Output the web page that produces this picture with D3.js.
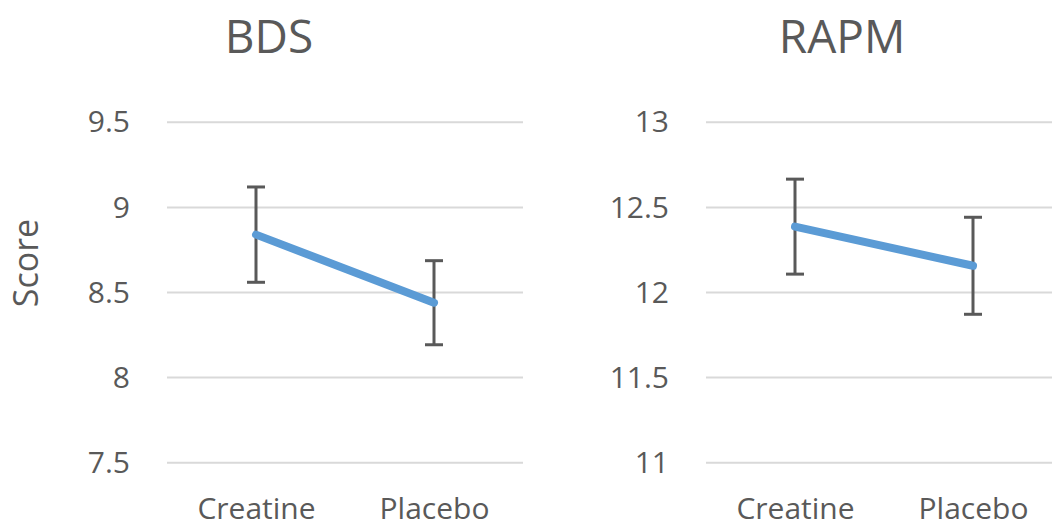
<!DOCTYPE html>
<html>
<head>
<meta charset="utf-8">
<script src="https://cdn.jsdelivr.net/npm/d3@7"></script>
<style>
  html, body { margin: 0; padding: 0; background: #fff; }
  svg { display: block; }
  text { font-family: "Open Sans", "Segoe UI", sans-serif; fill: #595959; }
</style>
</head>
<body>
<svg id="chart" width="1052" height="527"></svg>
<script>
// ---- data ----
const categories = ["Creatine", "Placebo"];
const bdsMeans = [8.84, 8.44];
const bdsErrors = [0.28, 0.247];
const rapmMeans = [12.387, 12.157];
const rapmErrors = [0.279, 0.285];
const bdsTicks = [7.5, 8, 8.5, 9, 9.5];
const rapmTicks = [11, 11.5, 12, 12.5, 13];
const panelTitles = ["BDS", "RAPM"];
const yAxisTitle = "Score";

const svg = d3.select("#chart");

const panels = [
  { title: panelTitles[0], means: bdsMeans, errors: bdsErrors, ticks: bdsTicks,
    x0: 167, x1: 523, titleX: 269 },
  { title: panelTitles[1], means: rapmMeans, errors: rapmErrors, ticks: rapmTicks,
    x0: 706, x1: 1062, titleX: 842 }
];

const yTop = 122.3, yBottom = 462.7;

panels.forEach(p => {
  const g = svg.append("g");
  const x = d3.scalePoint().domain(categories).range([p.x0, p.x1]).padding(0.5);
  const y = d3.scaleLinear().domain([p.ticks[0], p.ticks[p.ticks.length - 1]]).range([yBottom, yTop]);

  // gridlines
  g.selectAll("line.grid").data(p.ticks).enter().append("line")
    .attr("class", "grid")
    .attr("x1", p.x0).attr("x2", p.x1)
    .attr("y1", d => y(d)).attr("y2", d => y(d))
    .attr("stroke", "#d9d9d9").attr("stroke-width", 2);

  // y axis labels
  const yAxis = d3.axisLeft(y).tickValues(p.ticks).tickSize(0).tickPadding(37)
    .tickFormat(d => String(d));
  const ya = g.append("g").attr("transform", `translate(${p.x0},0)`).call(yAxis);
  ya.select(".domain").remove();
  ya.selectAll("text").style("font-size", "30px").attr("fill", "#595959")
    .style("font-family", '"Open Sans", sans-serif');

  // x axis labels
  const xAxis = d3.axisBottom(x).tickSize(0).tickPadding(0);
  const xa = g.append("g").attr("transform", `translate(0,${yBottom})`).call(xAxis);
  xa.select(".domain").remove();
  xa.selectAll("text").attr("dy", null).attr("y", 56)
    .style("font-size", "30px").attr("fill", "#595959")
    .style("font-family", '"Open Sans", sans-serif');

  // title
  g.append("text").attr("x", p.titleX).attr("y", 53)
    .attr("text-anchor", "middle").style("font-size", "46px").text(p.title);

  const data = categories.map((c, i) => ({ c, m: p.means[i], e: p.errors[i] }));

  // error bars
  const eb = g.selectAll("g.eb").data(data).enter().append("g").attr("class", "eb");
  eb.append("line")
    .attr("x1", d => x(d.c)).attr("x2", d => x(d.c))
    .attr("y1", d => y(d.m + d.e)).attr("y2", d => y(d.m - d.e))
    .attr("stroke", "#595959").attr("stroke-width", 3);
  eb.append("line")
    .attr("x1", d => x(d.c) - 9).attr("x2", d => x(d.c) + 9)
    .attr("y1", d => y(d.m + d.e)).attr("y2", d => y(d.m + d.e))
    .attr("stroke", "#595959").attr("stroke-width", 3);
  eb.append("line")
    .attr("x1", d => x(d.c) - 9).attr("x2", d => x(d.c) + 9)
    .attr("y1", d => y(d.m - d.e)).attr("y2", d => y(d.m - d.e))
    .attr("stroke", "#595959").attr("stroke-width", 3);

  // mean line
  const line = d3.line().x(d => x(d.c)).y(d => y(d.m));
  g.append("path").datum(data).attr("d", line)
    .attr("fill", "none").attr("stroke", "#5b9bd5")
    .attr("stroke-width", 8).attr("stroke-linecap", "round");
});

// y axis title
svg.append("text")
  .attr("transform", "translate(38,263) rotate(-90)")
  .attr("text-anchor", "middle").style("font-size", "34px").text(yAxisTitle);
</script>
</body>
</html>
